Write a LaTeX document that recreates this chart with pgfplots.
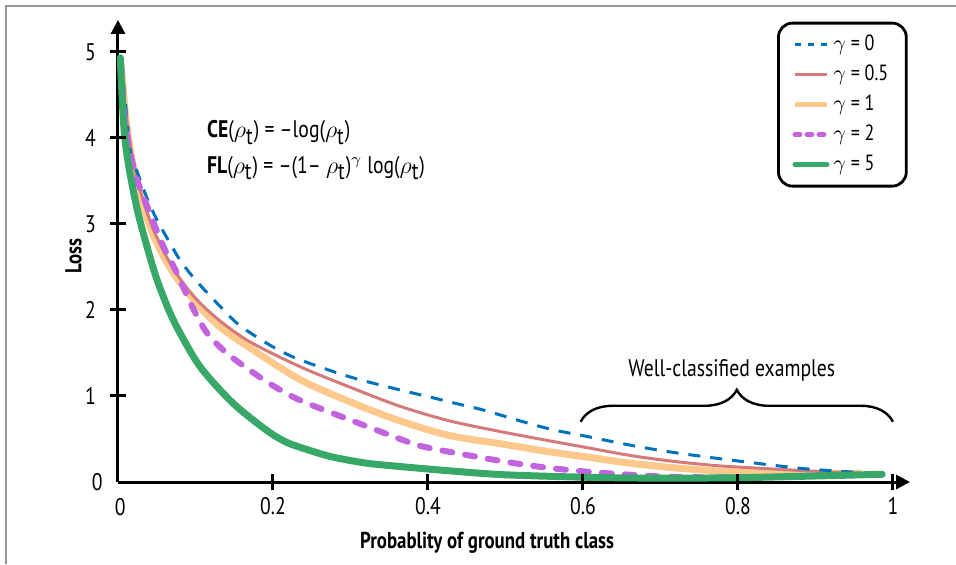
\documentclass[border=0pt]{standalone}
\usepackage{fontspec}
\setmainfont{PT Sans}[FakeStretch=0.82]
\usepackage{pgfplots}
\pgfplotsset{compat=1.18}
\usetikzlibrary{arrows.meta,decorations.pathreplacing}
\definecolor{cblue}{RGB}{0,114,189}
\definecolor{cred}{RGB}{212,122,122}
\definecolor{corange}{RGB}{253,200,140}
\definecolor{cpurple}{RGB}{194,100,224}
\definecolor{cgreen}{RGB}{56,168,105}
\definecolor{cframe}{RGB}{150,150,150}
\pgfplotsset{legend image code/.code={\draw[#1] (0pt,0pt) -- (16pt,0pt);}}

\begin{document}
\begin{tikzpicture}
\path[use as bounding box] (-59pt,-41pt) rectangle (419pt,241pt);
\draw[cframe, line width=0.8pt] (-56pt,-41pt) -- (-56pt,238pt) -- (419pt,238pt);
\begin{axis}[
  at={(0,0)}, anchor=origin,
  scale only axis, width=396pt, height=231pt,
  xmin=0, xmax=1.022, ymin=0, ymax=5.37,
  axis x line=bottom, axis y line=left,
  axis line style={line width=1.5pt, black, -{Triangle[length=7pt,width=7pt]}},
  xtick={0.2,0.4,0.6,0.8,1}, ytick={1,2,3,4,5},
  tick align=center, major tick length=8pt,
  tick style={draw=black, line width=1.5pt},
  /pgf/number format/assume math mode=true,
  ticklabel style={font=\fontsize{12}{14}\selectfont},
  yticklabel style={xshift=-3.5pt},
  xlabel={Probablity of ground truth class},
  ylabel={Loss},
  label style={font=\bfseries\fontsize{11.5}{13}\selectfont},
  xlabel style={at={(ticklabel cs:0.466)}, yshift=-2pt},
  ylabel style={at={(rel axis cs:-0.037,0.49)}, anchor=south},
  clip=false,
  legend cell align=left,
  legend style={at={(axis cs:1.019,5.35)}, anchor=north east, draw=black,
    line width=1.4pt, rounded corners=7pt, inner xsep=7pt, inner ysep=4pt,
    row sep=1.5pt, font=\fontsize{11}{13}\selectfont,
    nodes={inner sep=2pt, text height=7.5pt, text depth=2pt}},
]
% gamma = 1
\addplot[corange, line width=3.5pt, smooth, forget plot] table {
0.004 4.85
0.010 4.25
0.018 3.75
0.030 3.28
0.045 2.88
0.065 2.52
0.085 2.26
0.106 2.03
0.132 1.80
0.17 1.56
0.235 1.19
0.30 0.93
0.364 0.71
0.428 0.54
0.497 0.44
0.55 0.36
0.605 0.29
0.66 0.22
0.712 0.17
0.77 0.13
0.83 0.11
0.90 0.10
0.96 0.10
};
% gamma = 0.5
\addplot[cred, line width=1.5pt, smooth, forget plot] table {
0.004 4.85
0.010 4.30
0.018 3.80
0.030 3.35
0.045 2.95
0.065 2.58
0.085 2.30
0.106 2.08
0.132 1.87
0.17 1.63
0.235 1.34
0.30 1.10
0.364 0.88
0.428 0.71
0.497 0.58
0.55 0.49
0.605 0.40
0.66 0.31
0.712 0.245
0.773 0.19
0.828 0.16
0.90 0.125
0.96 0.10
};
% gamma = 0
\addplot[cblue, line width=1.5pt, dash pattern=on 6pt off 5pt, smooth, forget plot] table {
0.004 4.90
0.009 4.48
0.0155 3.86
0.025 3.60
0.037 3.31
0.050 3.05
0.065 2.81
0.080 2.58
0.097 2.38
0.115 2.20
0.132 2.04
0.157 1.82
0.2 1.57
0.235 1.42
0.30 1.22
0.364 1.07
0.406 0.98
0.428 0.93
0.47 0.84
0.519 0.71
0.56 0.61
0.605 0.53
0.66 0.43
0.712 0.35
0.786 0.26
0.88 0.16
0.94 0.12
0.96 0.11
};
% gamma = 2
\addplot[cpurple, line width=3pt, line cap=round, dash pattern=on 5pt off 6.5pt, smooth, forget plot] table {
0.004 4.85
0.010 4.15
0.022 3.59
0.041 3.13
0.058 2.75
0.076 2.43
0.095 2.05
0.115 1.73
0.14 1.50
0.17 1.30
0.2 1.12
0.235 0.95
0.30 0.72
0.364 0.50
0.39 0.42
0.428 0.35
0.497 0.24
0.55 0.17
0.605 0.12
0.66 0.085
0.712 0.06
0.77 0.055
0.85 0.06
};
% gamma = 5
\addplot[cgreen, line width=3.5pt, line cap=round, smooth, forget plot] table {
0.003 4.93
0.009 3.98
0.024 3.20
0.045 2.50
0.060 2.12
0.076 1.80
0.106 1.34
0.148 0.92
0.192 0.60
0.218 0.46
0.25 0.36
0.277 0.29
0.32 0.22
0.364 0.18
0.428 0.13
0.497 0.085
0.605 0.055
0.70 0.045
0.80 0.05
0.90 0.07
0.986 0.09
};
\addlegendimage{cblue, line width=1.5pt, dash pattern=on 3pt off 3.5pt}
\addlegendentry{$\gamma$ = 0}
\addlegendimage{cred, line width=1.2pt}
\addlegendentry{$\gamma$ = 0.5}
\addlegendimage{corange, line width=2.5pt}
\addlegendentry{$\gamma$ = 1}
\addlegendimage{cpurple, line width=2.5pt, line cap=round, dash pattern=on 2.5pt off 3.5pt}
\addlegendentry{$\gamma$ = 2}
\addlegendimage{cgreen, line width=2.5pt, line cap=round}
\addlegendentry{$\gamma$ = 5}
% tick marks (axis decoration), absolute axis coordinates
\draw[black, line width=1.5pt] (axis cs:0.2,-0.095) -- (axis cs:0.2,0.095);
\draw[black, line width=1.5pt] (axis cs:0.4,-0.095) -- (axis cs:0.4,0.095);
\draw[black, line width=1.5pt] (axis cs:0.6,-0.095) -- (axis cs:0.6,0.095);
\draw[black, line width=1.5pt] (axis cs:0.8,-0.095) -- (axis cs:0.8,0.095);
\draw[black, line width=1.5pt] (axis cs:1,-0.095) -- (axis cs:1,0.095);
\draw[black, line width=1.5pt] (axis cs:-0.0105,1) -- (axis cs:0.0105,1);
\draw[black, line width=1.5pt] (axis cs:-0.0105,2) -- (axis cs:0.0105,2);
\draw[black, line width=1.5pt] (axis cs:-0.0105,3) -- (axis cs:0.0105,3);
\draw[black, line width=1.5pt] (axis cs:-0.0105,4) -- (axis cs:0.0105,4);
\draw[black, line width=1.5pt] (axis cs:-0.0105,5) -- (axis cs:0.0105,5);
\node[anchor=north, font=\fontsize{12}{14}\selectfont, inner sep=0pt, yshift=-8pt] at (axis cs:0.003,0) {0};
\node[anchor=east, font=\fontsize{12}{14}\selectfont, inner sep=0pt, xshift=-7.5pt] at (axis cs:0,0) {0};
\node[anchor=west, font=\fontsize{12}{14}\selectfont] at (axis cs:0.106,4.06)
  {\textbf{CE}($\rho_{\textrm{t}}$) = –log($\rho_{\textrm{t}}$)};
\node[anchor=west, font=\fontsize{12}{14}\selectfont] at (axis cs:0.106,3.65)
  {\textbf{FL}($\rho_{\textrm{t}}$) = –(1– $\rho_{\textrm{t}}$)$^{\gamma}$ log($\rho_{\textrm{t}}$)};
\draw[line width=1.2pt, decorate, decoration={brace, amplitude=16pt, aspect=0.5}]
  (axis cs:0.597,0.70) -- (axis cs:1.0,0.70);
\node[font=\fontsize{12}{14}\selectfont] at (axis cs:0.792,1.30) {Well-classified examples};
\end{axis}
\end{tikzpicture}
\end{document}
